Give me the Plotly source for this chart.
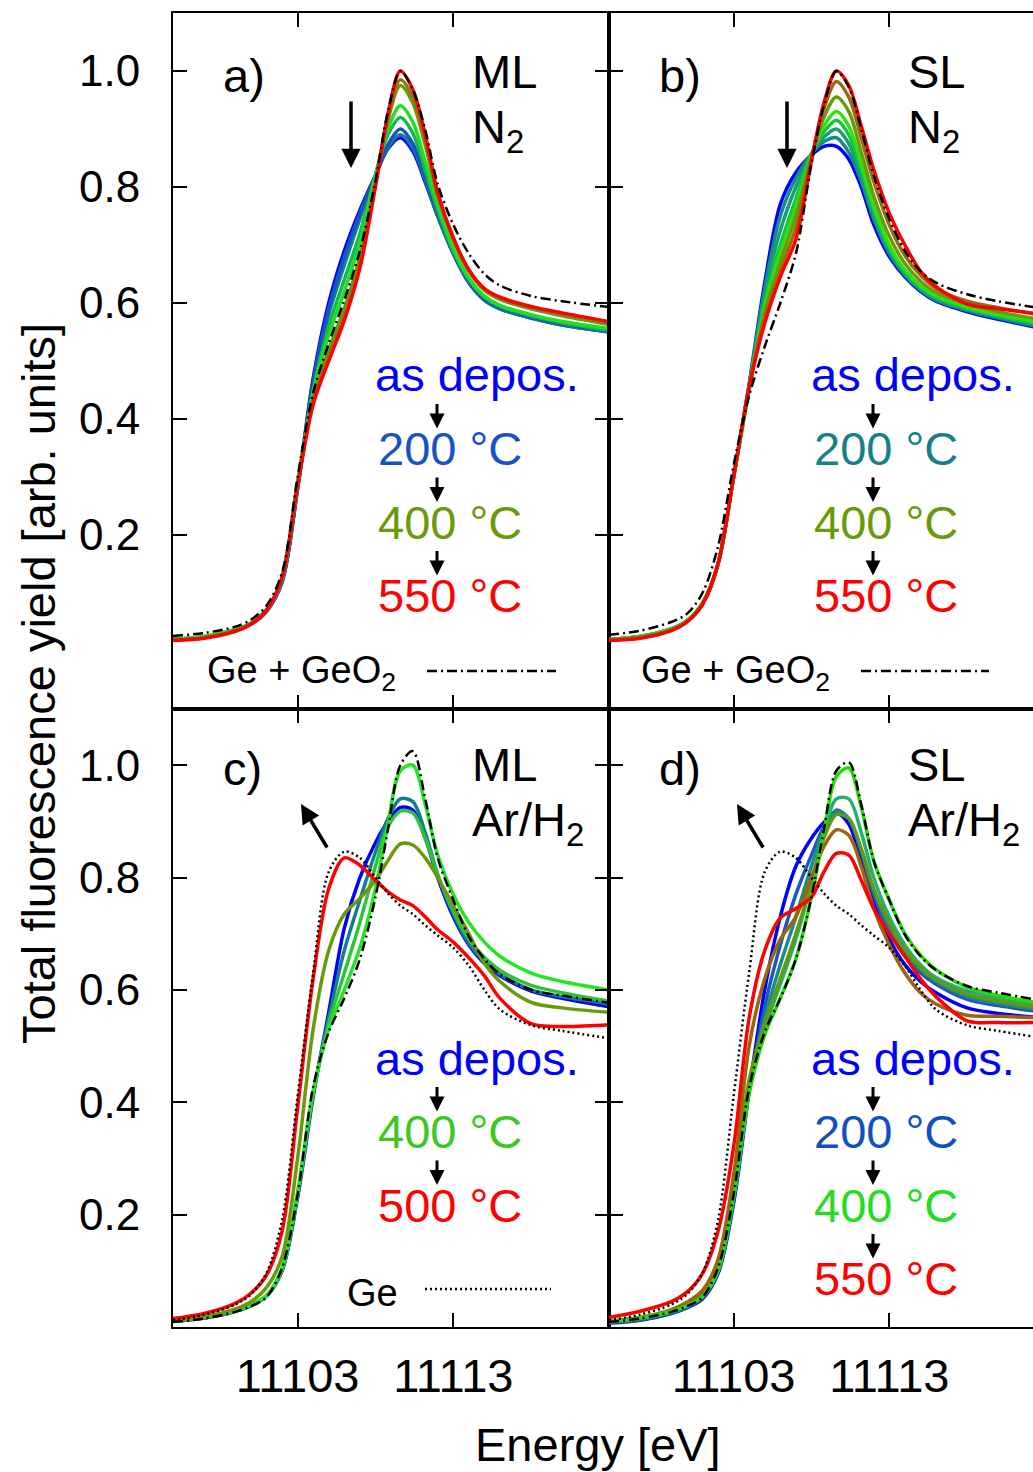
import plotly.graph_objects as go

# ---------------- data (energy grid in eV) ----------------
energy = [11095, 11097, 11099, 11100, 11101, 11102, 11103, 11104, 11105, 11106, 11107, 11108,
          11108.8, 11109.6, 11110.4, 11111.2, 11112, 11113, 11114, 11115, 11116, 11118, 11120, 11123]

# panel a) ML N2
a_ref    = [0.026, 0.031, 0.042, 0.054, 0.078, 0.135, 0.300, 0.445, 0.530, 0.605, 0.690, 0.810, 0.930, 1.000, 0.968, 0.898, 0.805, 0.735, 0.685, 0.650, 0.630, 0.612, 0.603, 0.593]
a_blue   = [0.020, 0.024, 0.035, 0.046, 0.068, 0.118, 0.280, 0.470, 0.600, 0.690, 0.760, 0.820, 0.866, 0.885, 0.862, 0.808, 0.750, 0.685, 0.635, 0.605, 0.590, 0.574, 0.562, 0.550]
a_200    = [0.020, 0.024, 0.036, 0.047, 0.069, 0.120, 0.280, 0.465, 0.590, 0.680, 0.755, 0.820, 0.873, 0.900, 0.875, 0.818, 0.755, 0.690, 0.638, 0.607, 0.592, 0.576, 0.564, 0.552]
a_teal   = [0.020, 0.024, 0.036, 0.047, 0.069, 0.121, 0.280, 0.460, 0.580, 0.665, 0.745, 0.820, 0.868, 0.890, 0.867, 0.812, 0.750, 0.686, 0.636, 0.605, 0.590, 0.574, 0.562, 0.550]
a_green  = [0.020, 0.025, 0.037, 0.048, 0.070, 0.123, 0.285, 0.450, 0.560, 0.640, 0.720, 0.820, 0.890, 0.920, 0.893, 0.828, 0.760, 0.690, 0.640, 0.610, 0.594, 0.578, 0.566, 0.553]
a_lgreen = [0.020, 0.025, 0.037, 0.048, 0.071, 0.125, 0.290, 0.445, 0.545, 0.620, 0.705, 0.820, 0.900, 0.940, 0.912, 0.843, 0.770, 0.695, 0.643, 0.612, 0.596, 0.580, 0.568, 0.556]
a_olive  = [0.019, 0.023, 0.035, 0.047, 0.070, 0.126, 0.288, 0.435, 0.520, 0.590, 0.680, 0.810, 0.915, 0.975, 0.945, 0.872, 0.785, 0.710, 0.655, 0.622, 0.606, 0.590, 0.578, 0.563]
a_brown  = [0.019, 0.023, 0.035, 0.047, 0.070, 0.126, 0.287, 0.430, 0.510, 0.580, 0.670, 0.805, 0.920, 0.985, 0.955, 0.880, 0.788, 0.712, 0.657, 0.624, 0.608, 0.592, 0.580, 0.566]
a_red    = [0.018, 0.022, 0.034, 0.046, 0.070, 0.127, 0.285, 0.425, 0.500, 0.570, 0.660, 0.800, 0.925, 1.000, 0.968, 0.890, 0.790, 0.712, 0.657, 0.625, 0.610, 0.594, 0.583, 0.568]

# panel b) SL N2
b_ref    = [0.028, 0.035, 0.050, 0.064, 0.100, 0.180, 0.320, 0.440, 0.525, 0.600, 0.685, 0.840, 0.940, 1.000, 0.972, 0.900, 0.820, 0.745, 0.690, 0.655, 0.635, 0.615, 0.603, 0.590]
b_blue   = [0.020, 0.025, 0.038, 0.052, 0.082, 0.150, 0.300, 0.460, 0.635, 0.770, 0.825, 0.855, 0.870, 0.870, 0.848, 0.800, 0.735, 0.680, 0.645, 0.620, 0.603, 0.585, 0.572, 0.555]
b_teal   = [0.020, 0.025, 0.038, 0.052, 0.082, 0.150, 0.300, 0.458, 0.625, 0.750, 0.815, 0.857, 0.878, 0.885, 0.860, 0.810, 0.745, 0.685, 0.648, 0.622, 0.605, 0.587, 0.574, 0.557]
b_gteal  = [0.020, 0.025, 0.038, 0.052, 0.082, 0.150, 0.300, 0.456, 0.612, 0.725, 0.800, 0.857, 0.886, 0.900, 0.875, 0.820, 0.752, 0.690, 0.650, 0.624, 0.607, 0.589, 0.576, 0.559]
b_green  = [0.020, 0.025, 0.038, 0.052, 0.082, 0.150, 0.300, 0.454, 0.600, 0.700, 0.780, 0.857, 0.895, 0.915, 0.890, 0.830, 0.760, 0.695, 0.653, 0.627, 0.610, 0.591, 0.578, 0.562]
b_lgreen = [0.020, 0.025, 0.038, 0.052, 0.082, 0.150, 0.300, 0.452, 0.593, 0.685, 0.765, 0.855, 0.905, 0.930, 0.905, 0.840, 0.768, 0.700, 0.657, 0.630, 0.612, 0.593, 0.580, 0.565]
b_olive  = [0.019, 0.024, 0.037, 0.051, 0.081, 0.150, 0.300, 0.450, 0.585, 0.670, 0.750, 0.852, 0.920, 0.955, 0.930, 0.860, 0.785, 0.715, 0.668, 0.638, 0.618, 0.598, 0.585, 0.570]
b_brown  = [0.019, 0.023, 0.036, 0.050, 0.080, 0.150, 0.300, 0.455, 0.575, 0.655, 0.730, 0.848, 0.935, 0.982, 0.955, 0.885, 0.810, 0.735, 0.682, 0.648, 0.625, 0.603, 0.592, 0.578]
b_red    = [0.018, 0.022, 0.035, 0.050, 0.080, 0.150, 0.300, 0.455, 0.565, 0.645, 0.710, 0.845, 0.945, 1.000, 0.975, 0.905, 0.830, 0.755, 0.700, 0.655, 0.628, 0.598, 0.590, 0.580]

# Ge reference (panels c, d)
ge_ref   = [0.012, 0.022, 0.040, 0.058, 0.096, 0.190, 0.410, 0.630, 0.810, 0.846, 0.835, 0.800, 0.772, 0.750, 0.735, 0.715, 0.697, 0.675, 0.643, 0.600, 0.565, 0.537, 0.527, 0.514]

# panel c) ML Ar/H2
c_ref    = [0.009, 0.015, 0.027, 0.037, 0.053, 0.105, 0.235, 0.427, 0.525, 0.585, 0.655, 0.765, 0.885, 1.000, 1.025, 0.940, 0.835, 0.760, 0.695, 0.655, 0.628, 0.600, 0.590, 0.577]
c_blue   = [0.010, 0.016, 0.028, 0.038, 0.055, 0.100, 0.230, 0.410, 0.560, 0.710, 0.800, 0.862, 0.900, 0.925, 0.920, 0.870, 0.800, 0.730, 0.680, 0.647, 0.625, 0.598, 0.585, 0.570]
c_teal   = [0.010, 0.016, 0.028, 0.038, 0.055, 0.100, 0.235, 0.415, 0.550, 0.670, 0.760, 0.845, 0.905, 0.940, 0.935, 0.880, 0.805, 0.735, 0.683, 0.650, 0.628, 0.600, 0.588, 0.575]
c_green  = [0.011, 0.017, 0.029, 0.039, 0.056, 0.102, 0.235, 0.415, 0.540, 0.630, 0.720, 0.820, 0.890, 0.918, 0.915, 0.870, 0.805, 0.740, 0.690, 0.658, 0.635, 0.608, 0.595, 0.580]
c_lgreen = [0.012, 0.018, 0.030, 0.040, 0.056, 0.105, 0.240, 0.420, 0.530, 0.600, 0.675, 0.780, 0.895, 0.990, 1.000, 0.930, 0.840, 0.770, 0.720, 0.685, 0.660, 0.630, 0.615, 0.600]
c_olive  = [0.011, 0.018, 0.032, 0.045, 0.070, 0.125, 0.300, 0.530, 0.670, 0.735, 0.763, 0.795, 0.830, 0.860, 0.858, 0.835, 0.800, 0.750, 0.700, 0.647, 0.615, 0.578, 0.568, 0.560]
c_red    = [0.015, 0.024, 0.042, 0.060, 0.092, 0.170, 0.390, 0.620, 0.780, 0.835, 0.822, 0.795, 0.775, 0.760, 0.750, 0.730, 0.707, 0.685, 0.657, 0.625, 0.585, 0.540, 0.535, 0.538]

# panel d) SL Ar/H2
d_ref    = [0.009, 0.015, 0.027, 0.037, 0.053, 0.105, 0.235, 0.425, 0.525, 0.585, 0.655, 0.765, 0.885, 0.990, 1.005, 0.930, 0.830, 0.760, 0.698, 0.660, 0.635, 0.607, 0.595, 0.580]
d_blue   = [0.007, 0.012, 0.024, 0.034, 0.050, 0.095, 0.220, 0.420, 0.600, 0.730, 0.820, 0.870, 0.898, 0.915, 0.895, 0.830, 0.755, 0.690, 0.645, 0.615, 0.595, 0.568, 0.558, 0.550]
d_200    = [0.008, 0.013, 0.025, 0.035, 0.052, 0.098, 0.225, 0.420, 0.570, 0.680, 0.770, 0.840, 0.890, 0.920, 0.905, 0.845, 0.770, 0.705, 0.660, 0.630, 0.610, 0.583, 0.572, 0.560]
d_teal   = [0.009, 0.014, 0.026, 0.036, 0.053, 0.100, 0.230, 0.420, 0.550, 0.645, 0.730, 0.820, 0.885, 0.918, 0.905, 0.850, 0.778, 0.712, 0.666, 0.636, 0.615, 0.588, 0.576, 0.563]
d_gteal  = [0.010, 0.016, 0.028, 0.038, 0.055, 0.100, 0.235, 0.420, 0.530, 0.610, 0.690, 0.790, 0.880, 0.940, 0.940, 0.880, 0.800, 0.730, 0.680, 0.645, 0.622, 0.598, 0.585, 0.570]
d_olive  = [0.009, 0.015, 0.028, 0.040, 0.058, 0.110, 0.250, 0.440, 0.540, 0.620, 0.700, 0.790, 0.870, 0.912, 0.905, 0.850, 0.780, 0.720, 0.672, 0.640, 0.618, 0.592, 0.580, 0.567]
d_brown  = [0.010, 0.017, 0.031, 0.044, 0.065, 0.120, 0.270, 0.500, 0.620, 0.690, 0.730, 0.800, 0.855, 0.885, 0.875, 0.820, 0.745, 0.680, 0.630, 0.595, 0.575, 0.555, 0.553, 0.550]
d_lgreen = [0.010, 0.016, 0.028, 0.038, 0.054, 0.100, 0.230, 0.415, 0.520, 0.585, 0.655, 0.765, 0.880, 0.980, 0.995, 0.925, 0.830, 0.760, 0.700, 0.662, 0.636, 0.605, 0.590, 0.575]
d_red    = [0.017, 0.028, 0.045, 0.062, 0.095, 0.170, 0.320, 0.550, 0.670, 0.728, 0.745, 0.765, 0.810, 0.843, 0.840, 0.795, 0.745, 0.700, 0.660, 0.620, 0.588, 0.545, 0.542, 0.542]

y_ticks = [0.2, 0.4, 0.6, 0.8, 1.0]
x_ticks = [11103, 11113]

# ---------------- styling ----------------
W, H = 1033, 1472
FONT = "Liberation Sans, Arial, Helvetica, sans-serif"
BLUE, RED = "#0000ff", "#ff0000"
PX_PER_EV = 436 / 28.0


def px(x):
    return x / W


def py(y):
    return 1 - y / H


DASHDOT = "10px,4px,2px,4px"
DOT = "2px,3px"

panels = [
    ("x", "y", [(a_blue, BLUE), (a_teal, "#12808c"), (a_200, "#1552c8"), (a_green, "#10b850"),
                (a_lgreen, "#22dd22"), (a_olive, "#6a9a0a"), (a_brown, "#8a7812"), (a_red, RED)],
     [(a_ref, DASHDOT)]),
    ("x2", "y2", [(b_blue, BLUE), (b_teal, "#158a8a"), (b_gteal, "#16a070"), (b_green, "#10c840"),
                  (b_lgreen, "#30e010"), (b_olive, "#6a9a0a"), (b_brown, "#9a6a12"), (b_red, RED)],
     [(b_ref, DASHDOT)]),
    ("x3", "y3", [(c_blue, BLUE), (c_teal, "#107e8c"), (c_green, "#2ec43a"), (c_lgreen, "#22e622"),
                  (c_olive, "#6a9a0a"), (c_red, RED)],
     [(c_ref, DASHDOT), (ge_ref, DOT)]),
    ("x4", "y4", [(d_blue, BLUE), (d_200, "#1a58c0"), (d_teal, "#1a8a8a"), (d_gteal, "#22b070"),
                  (d_olive, "#609a10"), (d_brown, "#a0620a"), (d_lgreen, "#22dd00"), (d_red, RED)],
     [(d_ref, DASHDOT), (ge_ref, DOT)]),
]

fig = go.Figure()
for xa, ya, samples, refs in panels:
    for vals, col in samples:
        fig.add_trace(go.Scatter(x=energy, y=vals, xaxis=xa, yaxis=ya, mode="lines",
                                 line=dict(color=col, width=3.5, shape="spline", smoothing=0.9),
                                 hoverinfo="skip", showlegend=False))
    for vals, dash in refs:
        fig.add_trace(go.Scatter(x=energy, y=vals, xaxis=xa, yaxis=ya, mode="lines",
                                 line=dict(color="black", width=2.5, dash=dash, shape="spline", smoothing=0.9),
                                 hoverinfo="skip", showlegend=False))

ax_common = dict(showline=True, linecolor="black", linewidth=2, ticks="inside", ticklen=14,
                 tickwidth=2, tickcolor="black", showgrid=False, zeroline=False,
                 tickfont=dict(family=FONT, size=44, color="black"))
xtickfont = dict(family=FONT, size=47, color="black")

XL = [px(173), px(609)]
XR = [px(609), 1.0]
YT = [py(709), py(13)]
YB = [py(1327), py(709)]
x_rng_L = [11095, 11123]
x_rng_R = [11095, 11095 + (W - 609) / PX_PER_EV]

fig.update_layout(
    xaxis=dict(**ax_common, domain=XL, range=x_rng_L, tickvals=x_ticks, showticklabels=False,
               mirror="ticks", anchor="y"),
    yaxis=dict(**ax_common, domain=YT, range=[-0.1, 1.1], tickvals=y_ticks, tickformat=".1f",
               mirror="ticks", anchor="x", ticklabelstandoff=22),
    xaxis2=dict(**ax_common, domain=XR, range=x_rng_R, tickvals=x_ticks, showticklabels=False,
                mirror="ticks", anchor="y2"),
    yaxis2=dict(**ax_common, domain=YT, range=[-0.1, 1.1], tickvals=y_ticks, showticklabels=False,
                anchor="x2"),
    xaxis3=dict(**ax_common, domain=XL, range=x_rng_L, tickvals=x_ticks, tickformat="d",
                mirror="ticks", anchor="y3", ticklabelstandoff=7),
    yaxis3=dict(**ax_common, domain=YB, range=[0, 1.1], tickvals=y_ticks, tickformat=".1f",
                mirror="ticks", anchor="x3", ticklabelstandoff=22),
    xaxis4=dict(**ax_common, domain=XR, range=x_rng_R, tickvals=x_ticks, tickformat="d",
                mirror="ticks", anchor="y4", ticklabelstandoff=7),
    yaxis4=dict(**ax_common, domain=YB, range=[0, 1.1], tickvals=y_ticks, showticklabels=False,
                anchor="x4"),
)
fig.update_layout(xaxis3_tickfont=xtickfont, xaxis4_tickfont=xtickfont)

annotations = []
shapes = []


def txt(text, x, y, size=47, color="black", xanchor="left", angle=0):
    annotations.append(dict(text=text, x=px(x), y=py(y), xref="paper", yref="paper",
                            xanchor=xanchor, yanchor="middle", showarrow=False, textangle=angle,
                            font=dict(family=FONT, size=size, color=color)))


def arrow(xh, yh, dx, dy, width=2.5, size=1.0):
    annotations.append(dict(text="", x=px(xh), y=py(yh), xref="paper", yref="paper",
                            showarrow=True, ax=dx, ay=dy, arrowhead=2, arrowsize=size,
                            arrowwidth=width, arrowcolor="black", standoff=0))


def legline(x0, x1, y, dash):
    shapes.append(dict(type="line", xref="paper", yref="paper", x0=px(x0), x1=px(x1),
                       y0=py(y), y1=py(y), line=dict(color="black", width=2.5, dash=dash)))


# panel labels
for dx, dy, lab, l1, l2 in [(0, 0, "a)", "ML", "N<sub>2</sub>"), (436, 0, "b)", "SL", "N<sub>2</sub>"),
                            (0, 693, "c)", "ML", "Ar/H<sub>2</sub>"), (436, 693, "d)", "SL", "Ar/H<sub>2</sub>")]:
    txt(lab, 221 + dx, 76 + dy)
    txt(l1, 470 + dx, 71 + dy)
    txt(l2, 470 + dx, 130 + dy)

# big arrows
arrow(351, 168, 0, -68, width=3.5, size=1.1)
arrow(787, 168, 0, -68, width=3.5, size=1.1)
arrow(301, 804, 27, 45, width=3.5, size=1.1)
arrow(737, 804, 27, 45, width=3.5, size=1.1)

# temperature sequences
seq = [
    (0, 0, [("as depos.", BLUE), ("200 °C", "#1552c8"), ("400 °C", "#6a9a0a"), ("550 °C", RED)]),
    (436, 0, [("as depos.", BLUE), ("200 °C", "#158088"), ("400 °C", "#6a9a0a"), ("550 °C", RED)]),
    (0, 683, [("as depos.", BLUE), ("400 °C", "#3cc81e"), ("500 °C", RED)]),
    (436, 683, [("as depos.", BLUE), ("200 °C", "#1050c0"), ("400 °C", "#22dd22"), ("550 °C", RED)]),
]
for dx, dy, items in seq:
    for i, (t, col) in enumerate(items):
        yc = 375 + dy + 73.5 * i
        txt(t, (373 if i == 0 else 376) + dx, yc, color=col)
        if i > 0:
            arrow(437 + dx, yc - 20, 0, -26, width=3, size=1.0)

# reference legends
txt("Ge + GeO<sub>2</sub>", 205, 673, size=38)
legline(427, 556, 671, DASHDOT)
txt("Ge + GeO<sub>2</sub>", 639, 673, size=38)
legline(861, 989, 671, DASHDOT)
txt("Ge", 345, 1293, size=38)
legline(425, 551, 1289, DOT)

# axis titles
txt("Total fluorescence yield [arb. units]", 38, 684, size=47, xanchor="center", angle=-90)
txt("Energy [eV]", 598, 1444, size=47, xanchor="center")

fig.update_layout(width=W, height=H, autosize=False, margin=dict(l=0, r=0, t=0, b=0),
                  paper_bgcolor="white", plot_bgcolor="white",
                  annotations=annotations, shapes=shapes, showlegend=False)

fig.write_html("out.html", config={"displayModeBar": False})
